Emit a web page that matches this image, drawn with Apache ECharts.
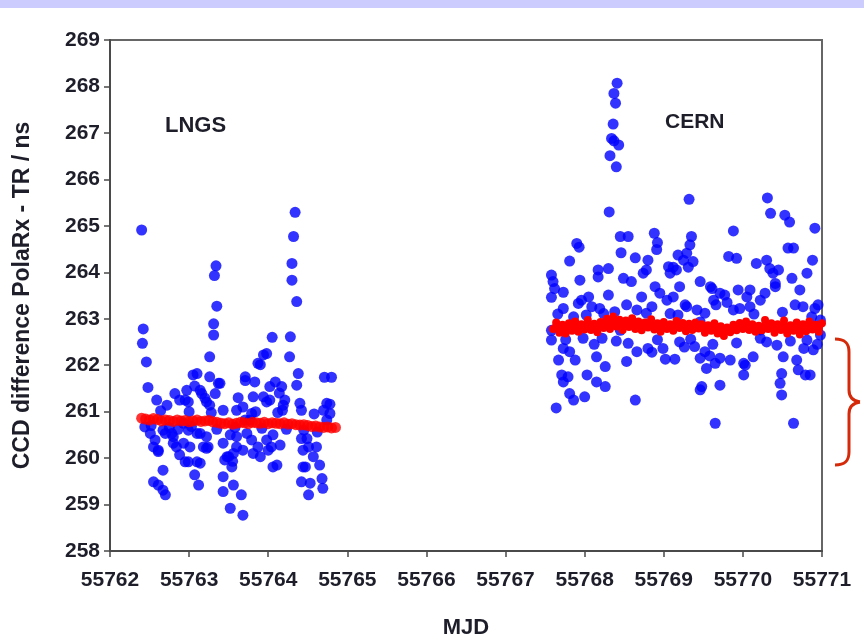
<!DOCTYPE html>
<html>
<head>
<meta charset="utf-8">
<script src="https://cdn.jsdelivr.net/npm/echarts@6/dist/echarts.min.js"></script>
<style>html,body{margin:0;padding:0;background:#fff;}#c{width:864px;height:641px;}</style>
</head>
<body>
<div id="c"></div>
<script>
// ---- data ----
const xTicks = [55762, 55771];   // x axis range (MJD)
const yTicks = [258, 269];       // y axis range (ns)
const xTitle = 'MJD';
const yTitle = 'CCD difference PolaRx - TR / ns';
const siteLabels = ['LNGS', 'CERN'];

const lngsBlue = [
[55762.40,264.91],[55762.42,262.78],[55762.41,262.47],[55762.46,262.07],[55762.48,261.52],[55762.59,261.25],[55762.72,261.14],[55762.82,261.39],[55762.88,261.25],[55762.97,261.46],
[55762.99,261.21],[55763.05,261.79],[55763.10,261.82],[55763.07,261.55],[55763.16,261.39],[55763.22,261.21],[55763.26,262.18],[55763.31,262.65],[55763.31,262.89],[55763.35,263.27],
[55763.32,263.93],[55763.34,264.14],[55763.26,261.75],[55763.37,261.61],[55763.33,261.39],[55763.43,261.03],[55763.60,261.03],[55763.68,261.10],[55763.71,261.75],[55763.83,261.64],
[55763.87,262.04],[55763.94,262.22],[55763.98,262.25],[55764.05,262.60],[55764.02,261.54],[55764.09,261.64],[55764.17,261.54],[55764.21,261.25],[55764.18,261.03],[55764.28,262.61],
[55764.27,262.18],[55764.30,263.83],[55764.30,264.19],[55764.32,264.77],[55764.34,265.29],[55764.36,263.37],[55764.38,261.82],[55764.36,261.57],[55764.40,261.18],[55764.42,261.03],
[55764.42,260.42],[55764.44,260.17],[55764.44,259.81],[55764.42,259.49],[55764.53,259.46],[55764.51,259.21],[55764.51,260.24],[55764.57,260.03],[55764.61,260.24],[55764.65,259.85],
[55764.68,259.56],[55764.69,259.35],[55764.70,261.03],[55764.74,261.18],[55764.78,261.16],[55764.71,261.74],[55764.80,261.74],[55764.78,260.96],[55764.74,260.82],
[55762.44,260.67],[55762.51,260.53],[55762.55,260.24],[55762.61,260.14],[55762.67,259.74],[55762.55,259.49],[55762.61,259.42],[55762.67,259.31],[55762.70,259.21],[55762.70,260.53],
[55762.78,260.53],[55762.80,260.32],[55762.88,260.07],[55762.93,260.32],[55762.99,260.60],[55763.01,260.24],[55762.99,259.92],[55763.07,259.64],[55763.12,259.42],[55763.10,259.92],
[55763.14,259.89],[55763.18,260.24],[55763.22,260.46],[55763.24,260.24],[55763.10,260.53],[55763.43,260.32],[55763.45,259.96],[55763.50,260.03],[55763.54,259.81],[55763.55,259.93],
[55763.43,259.60],[55763.43,259.28],[55763.56,259.42],[55763.52,258.92],[55763.68,258.77],[55763.66,259.21],[55763.60,260.46],[55763.60,260.24],[55763.68,260.17],[55763.73,260.53],
[55763.79,260.39],[55763.81,260.10],[55763.87,260.24],[55763.90,260.03],[55763.98,260.39],[55764.00,260.17],[55764.04,260.24],[55764.06,259.81],[55764.11,259.85],[55764.15,260.28],
[55764.06,260.50],[55763.77,260.82],[55763.94,261.32],[55763.98,261.21],[55763.79,260.96],[55763.71,260.82],[55762.84,260.24],[55762.95,259.92],[55762.93,260.75],
[55763.39,261.61],[55763.71,261.67],[55763.14,261.46],[55762.95,261.25],[55763.20,261.29],[55763.26,261.14],[55762.67,260.60],[55762.80,260.46],[55763.14,260.53],[55763.52,260.50],
[55762.57,260.39],[55762.61,260.17],[55763.22,260.21],[55763.48,260.03],[55763.56,260.10],[55763.90,262.01],[55763.81,261.32],[55764.02,261.25],[55764.19,261.14],[55764.49,260.42],[55764.47,259.81],
[55762.52,260.70],[55762.75,260.66],[55762.86,260.62],[55763.03,260.68],[55763.35,260.62],[55763.58,260.66],[55763.92,260.64],[55764.23,260.62],[55764.45,260.60],[55764.62,260.56],
[55762.64,261.02],[55763.00,261.00],[55763.28,260.98],[55763.84,261.00],[55764.12,260.98],[55764.58,260.95],[55763.62,261.30],[55764.14,261.40]
];

const cernBlue = [
[55768.41,268.07],[55768.37,267.85],[55768.39,267.64],[55768.36,267.19],[55768.34,266.88],[55768.37,266.83],[55768.43,266.74],[55768.32,266.51],[55768.40,266.27],[55768.31,265.30],
[55769.32,265.57],[55770.31,265.60],[55770.35,265.27],[55770.53,265.23],[55770.59,265.08],[55770.91,264.95],[55769.88,264.89],[55768.88,264.84],[55768.92,264.64],[55768.91,264.49],
[55768.45,264.77],[55768.55,264.77],[55768.46,264.42],[55767.90,264.62],[55767.93,264.54],[55767.81,264.24],[55768.64,264.31],[55769.35,264.77],[55769.33,264.59],[55769.29,264.41],
[55769.18,264.37],[55769.25,264.26],[55769.37,264.23],[55769.31,264.11],[55769.06,264.12],[55769.08,263.98],[55769.16,264.05],[55769.82,264.34],[55769.92,264.30],[55770.57,264.52],
[55770.64,264.52],[55770.88,264.26],[55770.81,263.98],[55770.17,264.19],[55770.30,264.26],[55770.34,264.08],[55770.45,264.05],[55770.38,263.98],[55770.62,263.87],[55770.72,263.62],
[55770.41,263.69],[55770.28,263.55],[55770.09,263.62],[55769.94,263.62],[55769.77,263.51],[55767.58,263.94],[55767.60,263.80],[55767.62,263.65],[55767.58,263.46],[55767.94,263.83],
[55768.17,264.05],[55768.30,264.08],[55768.17,263.90],[55768.49,263.87],[55768.59,263.80],[55768.80,264.26],[55768.78,264.05],[55768.74,263.98],[55768.89,263.69],[55768.95,263.55],
[55769.04,263.40],[55769.12,263.47],[55769.20,263.69],[55769.46,263.80],[55769.61,263.65],[55769.63,263.40],[55769.71,263.55],[55767.73,263.22],[55767.86,263.04],[55767.96,263.40],
[55768.05,263.47],[55768.09,263.26],[55768.19,263.22],[55768.30,263.51],[55768.53,263.30],[55768.66,263.19],[55768.85,263.26],[55769.29,263.26],[55769.42,263.19],[55769.88,263.19],
[55770.09,263.26],[55770.22,263.40],[55770.76,263.26],[55770.91,263.22],[55767.92,263.33],[55768.24,263.11],[55768.72,263.47],[55769.08,263.11],[55769.66,263.30],[55769.96,263.22],
[55770.41,263.76],[55770.95,263.30],[55769.12,264.11],[55769.59,263.69],[55769.27,263.30],[55770.05,263.47],[55770.87,263.04],[55767.73,263.57],
[55767.58,262.54],[55767.67,262.11],[55767.73,262.36],[55767.81,262.29],[55767.88,262.11],[55767.71,261.79],[55767.79,261.75],[55767.73,261.64],[55767.81,261.39],[55767.86,261.25],
[55768.00,261.32],[55767.64,261.08],[55768.03,261.79],[55768.15,261.64],[55768.26,261.54],[55768.15,262.18],[55768.26,261.97],[55768.22,262.58],[55767.98,262.58],[55768.53,262.08],
[55768.64,261.25],[55768.55,262.47],[55768.66,262.29],[55768.80,262.36],[55768.85,262.28],[55768.99,262.36],[55769.02,262.13],[55769.14,262.13],[55769.20,262.50],[55769.26,262.39],
[55769.39,262.40],[55769.46,262.15],[55769.52,262.29],[55769.54,261.93],[55769.65,262.04],[55769.71,262.15],[55769.58,262.20],[55769.48,261.54],[55769.46,261.47],[55769.71,261.57],
[55769.84,262.11],[55770.01,262.04],[55770.01,261.79],[55770.13,262.18],[55769.65,260.75],[55770.64,260.75],[55770.43,262.43],[55770.51,262.18],[55770.49,261.82],[55770.47,261.61],
[55770.49,261.36],[55770.68,262.11],[55770.70,261.90],[55770.79,261.79],[55770.85,261.79],[55770.81,262.54],[55770.89,262.33],[55770.03,262.00],[55770.77,262.36],[55770.22,262.76],
[55767.58,262.75],[55768.45,262.75],[55769.46,262.93],[55770.22,262.58],[55770.98,262.97],[55770.98,262.65],
[55767.66,263.10],[55768.02,263.08],[55768.38,263.15],[55768.78,263.12],[55769.18,263.08],[55769.52,263.12],[55769.80,263.35],[55770.14,263.10],[55770.50,263.14],[55770.66,263.30],
[55767.76,262.55],[55768.12,262.45],[55768.40,262.52],[55768.92,262.55],[55769.34,262.56],[55769.62,262.45],[55769.92,262.48],[55770.30,262.50],[55770.60,262.52],[55770.94,262.45]
];

const lngsRed = [
[55762.40,260.86],[55762.45,260.84],[55762.50,260.82],[55762.55,260.85],[55762.60,260.83],[55762.65,260.80],[55762.70,260.82],[55762.75,260.81],[55762.80,260.79],[55762.85,260.82],
[55762.90,260.80],[55762.95,260.81],[55763.00,260.78],[55763.05,260.80],[55763.10,260.82],[55763.15,260.79],[55763.20,260.80],[55763.25,260.81],[55763.30,260.78],[55763.35,260.77],
[55763.40,260.75],[55763.45,260.74],[55763.50,260.76],[55763.55,260.73],[55763.60,260.75],[55763.65,260.77],[55763.70,260.76],[55763.75,260.74],[55763.80,260.77],[55763.85,260.76],
[55763.90,260.75],[55763.95,260.77],[55764.00,260.74],[55764.05,260.76],[55764.10,260.75],[55764.15,260.74],[55764.20,260.76],[55764.25,260.73],[55764.30,260.74],[55764.35,260.72],
[55764.40,260.71],[55764.45,260.72],[55764.50,260.70],[55764.55,260.68],[55764.60,260.69],[55764.65,260.67],[55764.70,260.66],[55764.75,260.67],[55764.80,260.65],[55764.85,260.66]
];

const cernRed = [
[55767.60,262.78],[55767.64,262.92],[55767.68,262.70],[55767.72,262.87],[55767.76,262.68],[55767.80,262.90],[55767.84,262.74],[55767.88,262.94],[55767.92,262.72],[55767.96,262.88],
[55768.00,262.77],[55768.04,262.97],[55768.08,262.76],[55768.12,262.89],[55768.16,262.71],[55768.20,262.93],[55768.24,262.80],[55768.28,263.00],[55768.32,262.78],[55768.36,263.05],
[55768.40,262.83],[55768.44,262.98],[55768.48,262.76],[55768.52,262.96],[55768.56,262.82],[55768.60,263.01],[55768.64,262.78],[55768.68,262.94],[55768.72,262.75],[55768.76,262.92],
[55768.80,262.81],[55768.84,262.99],[55768.88,262.77],[55768.92,262.90],[55768.96,262.72],[55769.00,262.93],[55769.04,262.78],[55769.08,262.88],[55769.12,262.74],[55769.16,262.95],
[55769.20,262.80],[55769.24,262.91],[55769.28,262.73],[55769.32,262.89],[55769.36,262.76],[55769.40,262.92],[55769.44,262.79],[55769.48,262.88],[55769.52,262.70],[55769.56,262.86],
[55769.60,262.74],[55769.64,262.90],[55769.68,262.68],[55769.72,262.84],[55769.76,262.63],[55769.80,262.81],[55769.84,262.71],[55769.88,262.87],[55769.92,262.75],[55769.96,262.91],
[55770.00,262.78],[55770.04,262.94],[55770.08,262.76],[55770.12,262.88],[55770.16,262.72],[55770.20,262.85],[55770.24,262.75],[55770.28,262.97],[55770.32,262.78],[55770.36,262.90],
[55770.40,262.70],[55770.44,262.88],[55770.48,262.76],[55770.52,262.96],[55770.56,262.68],[55770.60,262.86],[55770.64,262.74],[55770.68,262.92],[55770.72,262.66],[55770.76,262.88],
[55770.80,262.73],[55770.84,262.94],[55770.88,262.77],[55770.92,262.87],[55770.96,262.72],[55771.00,262.90]
];

// ---- chart ----
const FONT = '"Liberation Sans", Arial, sans-serif';
const chart = echarts.init(document.getElementById('c'), null, {renderer: 'canvas'});
const axisColor = '#4a4a4a';
const textColor = '#1e1e2a';
const braceColor = '#d42a0a';
const braceStyle = {stroke: braceColor, lineWidth: 3, fill: null};
chart.setOption({
  animation: false,
  backgroundColor: '#ffffff',
  grid: {left: 110, right: 42, top: 40, bottom: 90, containLabel: false, outerBoundsMode: 'none',
         show: true, borderColor: '#666666', borderWidth: 2, backgroundColor: 'transparent'},
  xAxis: {
    type: 'value', min: xTicks[0], max: xTicks[1], interval: 1,
    name: xTitle, nameLocation: 'middle', nameGap: 66,
    nameTextStyle: {fontFamily: FONT, fontWeight: 'bold', fontSize: 22, color: textColor},
    axisLine: {show: true, lineStyle: {color: axisColor, width: 2}},
    axisTick: {show: true, length: 6, inside: false, lineStyle: {color: axisColor, width: 1.5}},
    axisLabel: {formatter: v => String(v), fontFamily: FONT, fontWeight: 'bold', fontSize: 21, color: textColor, margin: 19},
    splitLine: {show: false}
  },
  yAxis: {
    type: 'value', min: yTicks[0], max: yTicks[1], interval: 1,
    name: yTitle, nameLocation: 'middle', nameGap: 76,
    nameTextStyle: {fontFamily: FONT, fontWeight: 'bold', fontSize: 23, color: textColor},
    axisLine: {show: true, lineStyle: {color: axisColor, width: 2}},
    axisTick: {show: true, length: 6, inside: false, lineStyle: {color: axisColor, width: 1.5}},
    axisLabel: {formatter: v => String(v), fontFamily: FONT, fontWeight: 'bold', fontSize: 21, color: textColor, margin: 10},
    splitLine: {show: false}
  },
  series: [
    {type: 'scatter', data: lngsBlue, symbol: 'circle', symbolSize: 11, itemStyle: {color: '#0000ff'}, z: 2},
    {type: 'scatter', data: cernBlue, symbol: 'circle', symbolSize: 11, itemStyle: {color: '#0000ff'}, z: 2},
    {type: 'scatter', data: lngsRed, symbol: 'circle', symbolSize: 11, itemStyle: {color: '#ff0000'}, z: 3},
    {type: 'line', data: cernRed, symbol: 'circle', symbolSize: 8, showSymbol: true,
     lineStyle: {color: '#ff0000', width: 5}, itemStyle: {color: '#ff0000'}, z: 3}
  ],
  graphic: [
    {type: 'rect', shape: {x: 0, y: 0, width: 864, height: 8}, style: {fill: '#ccccff'}, silent: true},
    {type: 'text', x: 165, y: 115, style: {text: siteLabels[0], font: 'bold 22px ' + FONT, fill: textColor}},
    {type: 'text', x: 665, y: 112, style: {text: siteLabels[1], font: 'bold 21px ' + FONT, fill: textColor}},
    {type: 'bezierCurve', shape: {x1: 835, y1: 339, cpx1: 845, cpy1: 339, cpx2: 849, cpy2: 343, x2: 849, y2: 352}, style: braceStyle},
    {type: 'line', shape: {x1: 849, y1: 352, x2: 849, y2: 390}, style: braceStyle},
    {type: 'bezierCurve', shape: {x1: 849, y1: 390, cpx1: 849, cpy1: 397, cpx2: 853, cpy2: 401, x2: 860, y2: 402}, style: braceStyle},
    {type: 'bezierCurve', shape: {x1: 860, y1: 402, cpx1: 853, cpy1: 403, cpx2: 849, cpy2: 407, x2: 849, y2: 414}, style: braceStyle},
    {type: 'line', shape: {x1: 849, y1: 414, x2: 849, y2: 452}, style: braceStyle},
    {type: 'bezierCurve', shape: {x1: 849, y1: 452, cpx1: 849, cpy1: 461, cpx2: 845, cpy2: 465, x2: 835, y2: 465}, style: braceStyle}
  ]
});
</script>
</body>
</html>
